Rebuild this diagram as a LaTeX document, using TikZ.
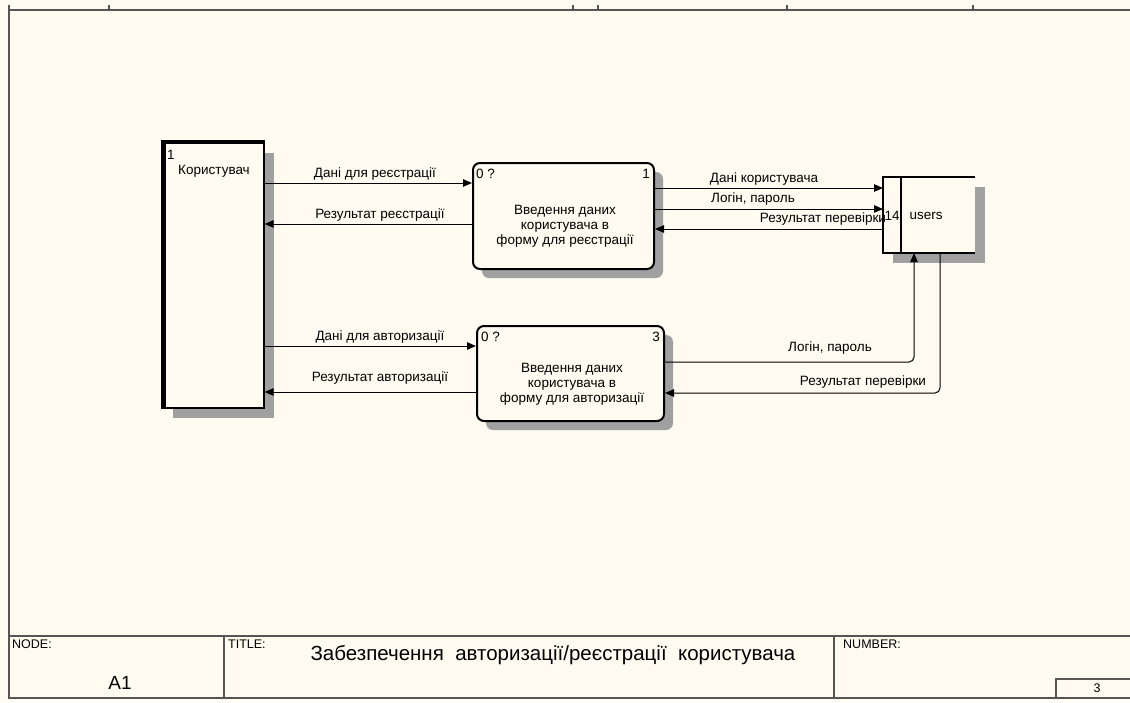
\documentclass[tikz,border=0pt]{standalone}
\usepackage{fontspec}
\setmainfont{Liberation Sans}
\usetikzlibrary{arrows.meta,shadows}
\definecolor{paper}{RGB}{255,251,240}
\definecolor{framecol}{RGB}{85,85,85}
\definecolor{shade}{RGB}{160,160,160}
\begin{document}
\begin{tikzpicture}[x=1pt,y=-1pt,
  txt/.style={inner sep=0pt, font=\fontsize{13.5}{15}\selectfont},
  small/.style={inner sep=0pt, font=\fontsize{12.5}{14}\selectfont},
  flow/.style={draw=black, line width=1pt, -{Triangle[length=9pt,width=7.5pt]}},
  procbox/.style={draw=black, line width=2pt, rounded corners=7pt, fill=paper,
    anchor=north west, inner sep=0pt,
    drop shadow={shadow xshift=9pt, shadow yshift=-9pt, fill=shade, opacity=1}},
  entbox/.style={draw=black, line width=1.6pt, fill=paper, anchor=north west, inner sep=0pt,
    drop shadow={shadow xshift=10pt, shadow yshift=-10pt, fill=shade, opacity=1}},
  storebox/.style={draw=none, fill=paper, anchor=north west, inner sep=0pt, outer sep=0pt,
    drop shadow={shadow xshift=10pt, shadow yshift=-10pt, fill=shade, opacity=1}},
  framel/.style={draw=framecol, line width=1.5pt}]

\useasboundingbox (0,0) rectangle (1130,702);
\fill[paper] (0,0) rectangle (1130,702);

% sheet frame with ruler ticks
\draw[framel] (9,5) -- (9,698) -- (1131,698);
\draw[framel] (9,10) -- (1131,10);
\foreach \tx in {109,573,598,787,973} \draw[framel] (\tx,5) -- (\tx,10);

% title block
\draw[framel] (9,636) -- (1131,636);
\draw[framel] (224,636) -- (224,698);
\draw[framel] (834,636) -- (834,698);
\draw[framel] (1056,679) rectangle (1132,698);
\node[small, anchor=west] (nodehdr) at (12,644) {NODE:};
\node[inner sep=0pt, font=\fontsize{19}{22}\selectfont] (nodeid) at (120,683) {A1};
\node[small, anchor=west] (titlehdr) at (228,644) {TITLE:};
\node[inner sep=0pt, font=\fontsize{20.5}{24}\selectfont] (titletxt) at (553,655)
  {Забезпечення\ \ авторизації/реєстрації\ \ користувача};
\node[small, anchor=west] (numhdr) at (843,644) {NUMBER:};
\node[small] (pagenum) at (1097,688) {3};

% external entity
\node[entbox, minimum width=101pt, minimum height=265pt] (ent) at (162,142) {};
\draw[line width=5pt] ([xshift=1pt]ent.south west) -- ([xshift=1pt]ent.north west);
\draw[line width=3.2pt] ([xshift=-1.5pt]ent.north west) -- (ent.north east);
\node[txt, anchor=west] (entnum) at (167,155) {1};
\node[txt] (entname) at (214,171) {Користувач};

% processes
\node[procbox, minimum width=181pt, minimum height=106pt] (p1) at (472,162) {};
\node[txt, anchor=west] (p1a) at (476,174) {0 ?};
\node[txt, anchor=east] (p1b) at (650,174) {1};
\node[txt, align=center] (p1t) at (565,226) {Введення даних\\користувача в\\форму для реєстрації};

\node[procbox, minimum width=187pt, minimum height=95pt] (p3) at (476,325) {};
\node[txt, anchor=west] (p3a) at (481,337) {0 ?};
\node[txt, anchor=east] (p3b) at (660,337) {3};
\node[txt, align=center] (p3t) at (572,384) {Введення даних\\користувача в\\форму для авторизації};

% data store
\node[storebox, minimum width=92pt, minimum height=76pt] (st) at (883,177) {};
\draw[line width=2pt] (st.north east) -- (st.north west) -- (st.south west) -- (st.south east);
\draw[line width=2pt] ([xshift=18pt]st.north west) -- ([xshift=18pt]st.south west);
\node[txt] (stnum) at (892,216) {14};
\node[txt] (stname) at (926,216) {users};

% flows between entity and processes
\draw[flow] (ent.east |- 0,183) -- (p1.west |- 0,183);
\draw[flow] (p1.west |- 0,224) -- (ent.east |- 0,224);
\draw[flow] (ent.east |- 0,346) -- (p3.west |- 0,346);
\draw[flow] (p3.west |- 0,392) -- (ent.east |- 0,392);

% flows between processes and store
\draw[flow] (p1.east |- 0,188) -- (st.west |- 0,188);
\draw[flow] (p1.east |- 0,209) -- (st.west |- 0,209);
\draw[flow] (st.west |- 0,229) -- (p1.east |- 0,229);
\draw[flow, rounded corners=5pt] (p3.east |- 0,362) -| (914,0 |- st.south);
\draw[flow, rounded corners=5pt] (940,0 |- st.south) |- (p3.east |- 0,393);

% flow labels
\node[txt] (l1) at (375,174) {Дані для реєстрації};
\node[txt] (l2) at (380,215) {Результат реєстрації};
\node[txt] (l3) at (380,337) {Дані для авторизації};
\node[txt] (l4) at (380,378) {Результат авторизації};
\node[txt] (l5) at (764,179) {Дані користувача};
\node[txt] (l6) at (753,199) {Логін, пароль};
\node[txt] (l7) at (823,219) {Результат перевірки};
\node[txt] (l8) at (830,348) {Логін, пароль};
\node[txt] (l9) at (863,382) {Результат перевірки};
\end{tikzpicture}
\end{document}
